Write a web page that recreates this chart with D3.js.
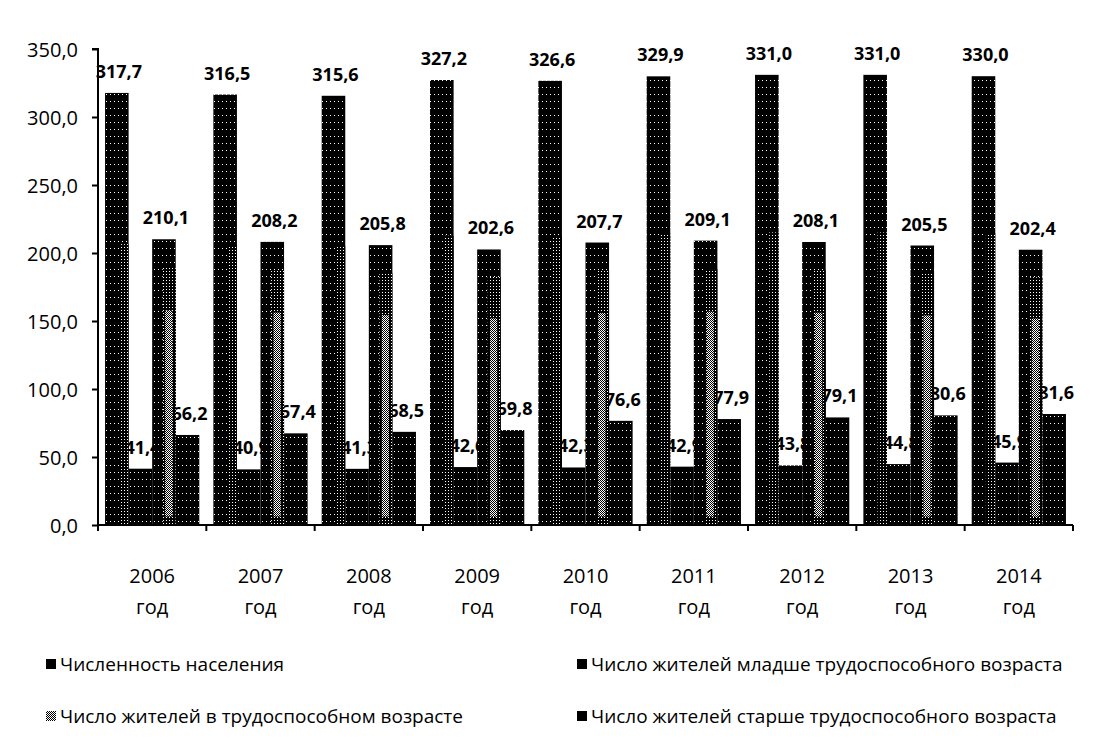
<!DOCTYPE html>
<html><head><meta charset="utf-8">
<script src="https://cdn.jsdelivr.net/npm/d3@7"></script>
<style>body{margin:0;background:#fff}svg{display:block}</style>
</head><body>
<svg id="c" width="1094" height="740"></svg>
<script>
const years = ["2006","2007","2008","2009","2010","2011","2012","2013","2014"];
const seriesNames = ["Численность населения","Число жителей младше трудоспособного возраста","Число жителей в трудоспособном возрасте","Число жителей старше трудоспособного возраста"];
const population = [317.7,316.5,315.6,327.2,326.6,329.9,331.0,331.0,330.0];
const young = [41.4,40.9,41.3,42.6,42.3,42.9,43.8,44.8,45.9];
const working = [210.1,208.2,205.8,202.6,207.7,209.1,208.1,205.5,202.4];
const older = [66.2,67.4,68.5,69.8,76.6,77.9,79.1,80.6,81.6];
const yTicks = [0,50,100,150,200,250,300,350];
const series = [population, young, working, older];

const svg = d3.select("#c");
const defs = svg.append("defs");
// mid-gray dither
const pat = defs.append("pattern").attr("id","dith").attr("patternUnits","userSpaceOnUse").attr("width",2).attr("height",2);
pat.append("rect").attr("width",2).attr("height",2).attr("fill","#fff");
pat.append("rect").attr("x",0).attr("y",0).attr("width",1).attr("height",1).attr("fill","#000");
pat.append("rect").attr("x",1).attr("y",1).attr("width",1).attr("height",1).attr("fill","#000");
// dark dither
const pat2 = defs.append("pattern").attr("id","dith2").attr("patternUnits","userSpaceOnUse").attr("width",3).attr("height",3);
pat2.append("rect").attr("width",3).attr("height",3).attr("fill","#000");
pat2.append("rect").attr("x",1).attr("y",1).attr("width",1).attr("height",1).attr("fill","#fff");
// sparse dots on black
const pat3 = defs.append("pattern").attr("id","dots").attr("patternUnits","userSpaceOnUse").attr("width",4).attr("height",7);
pat3.append("rect").attr("width",4).attr("height",7).attr("fill","#000");
pat3.append("rect").attr("x",2).attr("y",3).attr("width",1).attr("height",1).attr("fill","#fff");

const L = 98, R = 1073, T = 49, B = 525;
const x0 = d3.scaleBand().domain(years).range([L,R]).paddingInner(0.13).paddingOuter(0.065);
const x1 = d3.scaleBand().domain(d3.range(4)).range([0,x0.bandwidth()]);
const y = d3.scaleLinear().domain([0,350]).range([B,T]);
const fmt = v => d3.format(".1f")(v).replace(".",",");
const font = "'Open Sans', sans-serif";

// labels drawn first (bars overlap them as in the original)
const gl = svg.append("g");
years.forEach((yr,i)=>{
  series.forEach((s,k)=>{
    gl.append("text").attr("x", x0(yr)+x1(k)+x1.bandwidth()/2+2).attr("y", y(s[i])-15)
      .attr("text-anchor","middle").attr("font-family",font).attr("font-weight","bold")
      .attr("font-size",18).attr("fill","#000").text(fmt(s[i]));
  });
});

const gb = svg.append("g");
years.forEach((yr,i)=>{
  series.forEach((s,k)=>{
    const bx = x0(yr)+x1(k), bw = x1.bandwidth(), by = y(s[i]), bh = B-y(s[i]);
    gb.append("rect").attr("x",bx).attr("y",by).attr("width",bw).attr("height",bh).attr("fill","url(#dots)");
    if (k===0) {
      gb.append("rect").attr("x",bx+bw*0.6).attr("y",by+bh*0.35).attr("width",bw*0.4).attr("height",bh*0.65).attr("fill","url(#dith2)");
    }
    if (k===2) {
      gb.append("rect").attr("x",bx+bw*0.45).attr("y",by+bh*0.1).attr("width",bw*0.55).attr("height",bh*0.9).attr("fill","url(#dith2)");
      gb.append("rect").attr("x",bx+bw*0.55).attr("y",by+bh*0.25).attr("width",bw*0.3).attr("height",bh*0.72).attr("fill","url(#dith)");
    }
  });
});

// axes
const yAxis = d3.axisLeft(y).tickValues(yTicks).tickSize(6).tickFormat(fmt);
const ga = svg.append("g").attr("transform",`translate(${L},0)`).call(yAxis);
ga.select(".domain").attr("stroke","#000").attr("stroke-width",2).attr("d",`M-6,${T}H0V${B}`);
ga.selectAll(".tick line").attr("stroke","#000").attr("stroke-width",2);
ga.selectAll(".tick text").attr("font-family",font).attr("font-size",20).attr("fill","#000").attr("x",-20).attr("dy","0.35em");

const xb = d3.scaleBand().domain(years).range([L,R]);
const gx = svg.append("g").attr("transform",`translate(0,${B})`);
gx.append("line").attr("x1",L).attr("x2",R).attr("y1",0).attr("y2",0).attr("stroke","#000").attr("stroke-width",2);
years.concat(["end"]).forEach((yr,i)=>{
  const xx = i<years.length ? xb(yr) : R;
  gx.append("line").attr("x1",xx).attr("x2",xx).attr("y1",0).attr("y2",6).attr("stroke","#000").attr("stroke-width",2);
});
years.forEach(yr=>{
  const cx = xb(yr)+xb.bandwidth()/2;
  const t = gx.append("text").attr("text-anchor","middle").attr("font-family",font).attr("font-size",20).attr("fill","#000");
  t.append("tspan").attr("x",cx).attr("y",58).text(yr);
  t.append("tspan").attr("x",cx).attr("y",89).text("год");
});

// legend
const legPos = [[46,664],[577,664],[46,716],[577,716]];
const legFill = ["#000","#000","url(#dith)","#000"];
seriesNames.forEach((n,k)=>{
  const [lx,ly] = legPos[k];
  svg.append("rect").attr("x",lx).attr("y",ly-5).attr("width",10).attr("height",10).attr("fill",legFill[k]);
  svg.append("text").attr("x",lx+14).attr("y",ly).attr("dy","0.35em").attr("font-family",font)
    .attr("font-size",19).attr("fill","#000").text(n);
});
</script>
</body></html>
